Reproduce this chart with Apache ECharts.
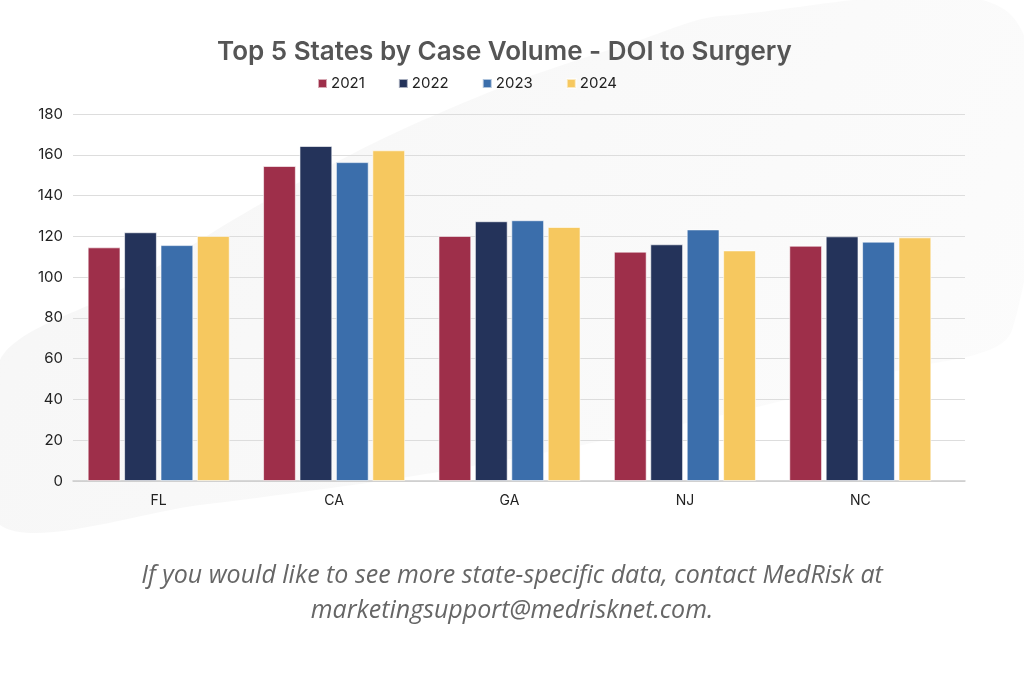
<!DOCTYPE html>
<html>
<head>
<meta charset="utf-8">
<script src="https://cdn.jsdelivr.net/npm/echarts@6/dist/echarts.min.js"></script>
<style>
  html, body { margin: 0; padding: 0; background: #fff; }
  #chart { width: 1024px; height: 681px; }
</style>
</head>
<body>
<div id="chart"></div>
<script>
const states = ['FL', 'CA', 'GA', 'NJ', 'NC'];
const years = ['2021', '2022', '2023', '2024'];
const values2021 = [114.6, 154.5, 120.2, 112.5, 115.4];
const values2022 = [122.0, 164.3, 127.4, 116.1, 120.0];
const values2023 = [115.7, 156.4, 127.9, 123.4, 117.4];
const values2024 = [120.2, 162.2, 124.6, 113.1, 119.5];
const yearColors = ['#9e2f4a', '#24335a', '#3b6eab', '#f6c85f'];

const chart = echarts.init(document.getElementById('chart'), null, { renderer: 'canvas' });
window.addEventListener('resize', function () {
  chart.resize();
});

const seriesValues = [values2021, values2022, values2023, values2024];

// soft grey swoosh behind the chart
const swoosh = [
  [0, 360], [120, 290], [250, 210], [380, 140], [520, 80], [640, 40], [720, 16],
  [1012, 16], [1012, 330], [900, 370], [700, 420], [450, 470], [200, 505], [0, 525]
];

chart.setOption({
  backgroundColor: '#ffffff',
  animation: false,
  graphic: [
    {
      type: 'polygon',
      z: -10,
      silent: true,
      shape: { points: swoosh, smooth: 0.3 },
      style: {
        fill: {
          type: 'linear', x: 0, y: 0, x2: 1, y2: 1,
          colorStops: [
            { offset: 0, color: '#f6f6f6' },
            { offset: 1, color: '#fcfcfc' }
          ]
        }
      }
    },
    {
      type: 'text',
      left: 'center',
      top: 563,
      style: {
        text: 'If you would like to see more state-specific data, contact MedRisk at',
        fontFamily: 'Open Sans',
        fontStyle: 'italic',
        fontSize: 25,
        fill: '#666666'
      }
    },
    {
      type: 'text',
      left: 'center',
      top: 598,
      style: {
        text: 'marketingsupport@medrisknet.com.',
        fontFamily: 'Open Sans',
        fontStyle: 'italic',
        fontSize: 25,
        fill: '#666666'
      }
    }
  ],
  title: {
    text: 'Top 5 States by Case Volume - DOI to Surgery',
    left: 212,
    top: 34,
    textStyle: {
      fontFamily: 'Inter',
      fontSize: 26,
      fontWeight: 600,
      color: '#555555'
    }
  },
  legend: {
    top: 71,
    left: 312,
    itemWidth: 9,
    itemHeight: 9,
    itemGap: 33,
    icon: 'rect',
    textStyle: {
      fontFamily: 'Inter',
      fontSize: 15,
      color: '#222222',
      padding: [0, 0, 0, -1]
    },
    data: years
  },
  grid: [
    { left: 73, right: 59, top: 114, bottom: 200 },
    { left: 71, right: 76, top: 114, bottom: 200 }
  ],
  xAxis: [
    {
      type: 'value',
      gridIndex: 0,
      min: 0,
      max: 1,
      axisLine: { show: true, lineStyle: { color: '#cccccc', width: 1.5 } },
      axisTick: { show: false },
      axisLabel: { show: false },
      splitLine: { show: false }
    },
    {
      type: 'category',
      gridIndex: 1,
      data: states,
      axisLine: { show: false },
      axisTick: { show: false },
      axisLabel: {
        fontFamily: 'Inter',
        fontSize: 14,
        color: '#222222',
        margin: 13
      }
    }
  ],
  yAxis: [
    {
      type: 'value',
      gridIndex: 0,
      min: 0,
      max: 180,
      interval: 20,
      axisLine: { show: false },
      axisTick: { show: false },
      axisLabel: {
        fontFamily: 'Inter',
        fontSize: 15,
        color: '#222222',
        margin: 10
      },
      splitLine: { lineStyle: { color: '#dddddd', width: 1.2 } }
    },
    {
      type: 'value',
      gridIndex: 1,
      min: 0,
      max: 180,
      interval: 20,
      show: false
    }
  ],
  series: years.map(function (year, i) {
    return {
      name: year,
      type: 'bar',
      xAxisIndex: 1,
      yAxisIndex: 1,
      data: seriesValues[i],
      barGap: '11%',
      barCategoryGap: '19%',
      itemStyle: {
        color: yearColors[i],
        borderColor: 'rgba(255,255,255,0.6)',
        borderWidth: 1
      }
    };
  })
});
</script>
</body>
</html>
